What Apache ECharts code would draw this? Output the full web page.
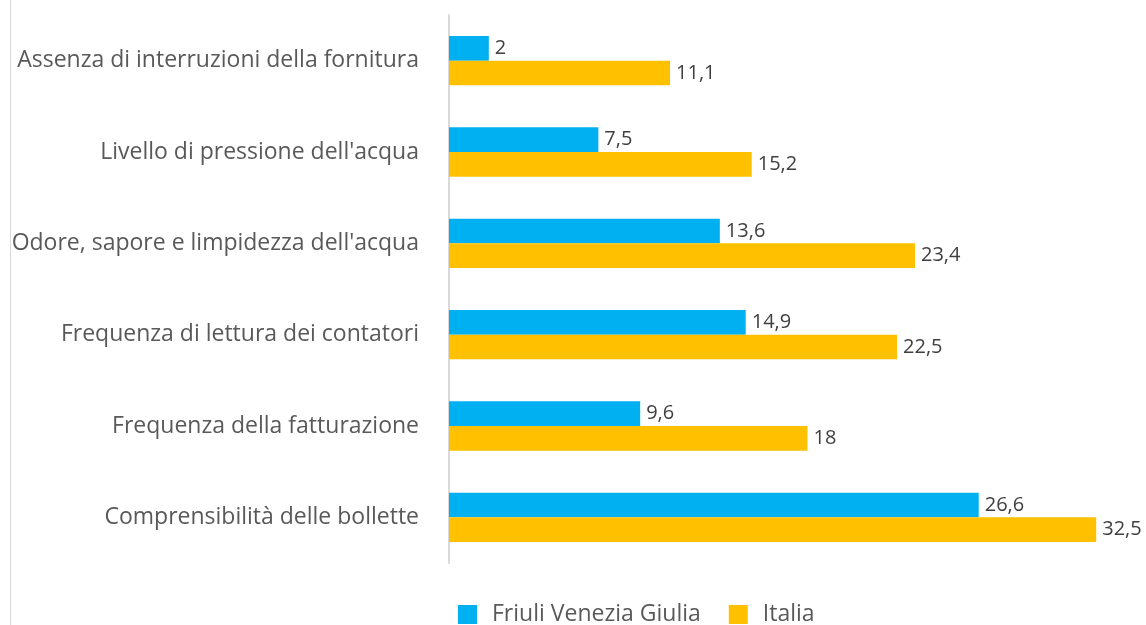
<!DOCTYPE html>
<html><head><meta charset="utf-8">
<script src="https://cdn.jsdelivr.net/npm/echarts@6/dist/echarts.min.js"></script>
<style>html,body{margin:0;padding:0;background:#fff}#c{width:1146px;height:625px}</style>
</head><body><div id="c"></div>
<script>
const categories = [
  "Assenza di interruzioni della fornitura",
  "Livello di pressione dell'acqua",
  "Odore, sapore e limpidezza dell'acqua",
  "Frequenza di lettura dei contatori",
  "Frequenza della fatturazione",
  "Comprensibilità delle bollette"
];
const fvg = [2, 7.5, 13.6, 14.9, 9.6, 26.6];
const italia = [11.1, 15.2, 23.4, 22.5, 18, 32.5];
const seriesNames = ["Friuli Venezia Giulia", "Italia"];

const FONT = "Open Sans";
const chart = echarts.init(document.getElementById('c'), null, {renderer: 'canvas'});
const lbl = {
  show: true, position: 'right', distance: 6,
  color: '#404040', fontFamily: FONT, fontSize: 20,
  formatter: p => String(p.value).replace('.', ',')
};
chart.setOption({
  animation: false,
  backgroundColor: '#fff',
  graphic: [{
    type: 'line', shape: {x1: 10.5, y1: 0, x2: 10.5, y2: 625},
    style: {stroke: '#d9d9d9', lineWidth: 1}
  }],
  legend: {
    top: 603, left: 458, padding: 0,
    itemWidth: 19, itemHeight: 19, itemGap: 28,
    icon: 'rect',
    textStyle: {color: '#595959', fontFamily: FONT, fontSize: 23, padding: [0,0,0,10]},
    data: seriesNames
  },
  grid: {left: 449, top: 15, width: 700, bottom: 62, containLabel: false},
  xAxis: {
    type: 'value', min: 0, max: 35, show: false
  },
  yAxis: {
    type: 'category', data: categories, inverse: true,
    axisLine: {show: true, lineStyle: {color: '#d9d9d9', width: 2}},
    axisTick: {show: false},
    axisLabel: {color: '#595959', fontFamily: FONT, fontSize: 23, margin: 30, padding: [4,0,0,0]}
  },
  series: [
    {name: seriesNames[0], type: 'bar', data: fvg, barGap: '0%', barCategoryGap: '46%',
     itemStyle: {color: '#00B0F0'}, label: lbl},
    {name: seriesNames[1], type: 'bar', data: italia, barGap: '0%', barCategoryGap: '46%',
     itemStyle: {color: '#FFC000'}, label: lbl}
  ]
});
</script></body></html>
